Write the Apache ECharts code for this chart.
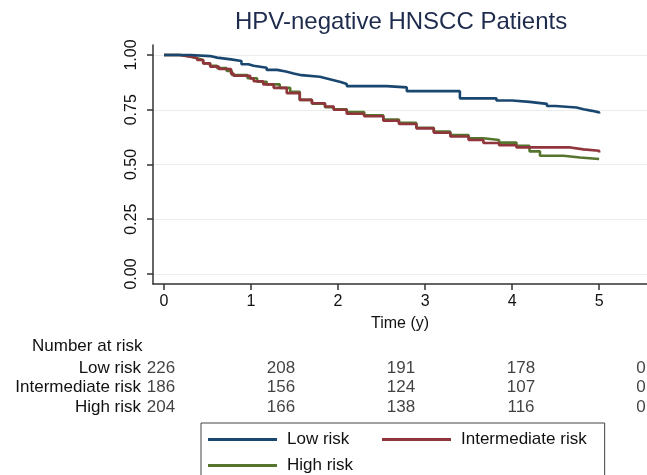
<!DOCTYPE html>
<html>
<head>
<meta charset="utf-8">
<script src="https://cdn.jsdelivr.net/npm/echarts@6/dist/echarts.min.js"></script>
<style>
  html, body { margin: 0; padding: 0; background: #fff; }
  #km-chart { width: 647px; height: 475px; }
</style>
</head>
<body>
<div id="km-chart"></div>
<script>
// Kaplan-Meier curves (time in years, survival probability)
const lowT  = [0, 0.30, 0.53, 0.61, 0.77, 0.89, 0.97, 1.03, 1.18, 1.30, 1.40, 1.49, 1.58, 1.79, 1.87, 1.95, 2.03, 2.10, 2.56, 2.79, 3.40, 3.82, 4.00, 4.20, 4.40, 4.50, 4.74, 4.82, 4.92, 5.00];
const lowS  = [1.000, 0.995, 0.988, 0.980, 0.973, 0.958, 0.951, 0.942, 0.932, 0.925, 0.916, 0.908, 0.901, 0.893, 0.885, 0.877, 0.868, 0.858, 0.852, 0.835, 0.802, 0.792, 0.786, 0.777, 0.767, 0.760, 0.752, 0.745, 0.738, 0.733];
const midT  = [0, 0.18, 0.30, 0.38, 0.45, 0.53, 0.63, 0.77, 0.80, 0.99, 1.03, 1.14, 1.26, 1.41, 1.56, 1.70, 1.85, 1.95, 2.10, 2.30, 2.52, 2.70, 2.90, 3.10, 3.29, 3.50, 3.67, 3.85, 4.05, 4.67, 4.82, 5.00];
const midS  = [1.000, 0.992, 0.987, 0.977, 0.962, 0.947, 0.936, 0.915, 0.905, 0.893, 0.880, 0.866, 0.850, 0.826, 0.795, 0.780, 0.765, 0.750, 0.732, 0.720, 0.700, 0.685, 0.665, 0.645, 0.628, 0.612, 0.598, 0.588, 0.578, 0.569, 0.563, 0.555];
const highT = [0, 0.18, 0.30, 0.34, 0.41, 0.45, 0.53, 0.61, 0.72, 0.78, 0.96, 1.07, 1.18, 1.33, 1.45, 1.56, 1.70, 1.85, 1.95, 2.10, 2.30, 2.52, 2.70, 2.90, 3.10, 3.29, 3.50, 3.67, 3.85, 4.05, 4.20, 4.32, 4.59, 4.78, 5.00];
const highS = [1.000, 0.995, 0.990, 0.982, 0.977, 0.962, 0.951, 0.940, 0.927, 0.909, 0.894, 0.878, 0.866, 0.850, 0.832, 0.795, 0.778, 0.762, 0.752, 0.740, 0.725, 0.705, 0.690, 0.668, 0.650, 0.635, 0.620, 0.612, 0.600, 0.585, 0.560, 0.540, 0.532, 0.525, 0.523];

const groups = ["Low risk", "Intermediate risk", "High risk"];
const xTicks = [0, 1, 2, 3, 4, 5];
const yTicks = [0, 0.25, 0.5, 0.75, 1];

// number at risk table
const riskTimes = [0, 1.25, 2.5, 3.75, 5];
const riskLow  = [226, 208, 191, 178, 0];
const riskMid  = [186, 156, 124, 107, 0];
const riskHigh = [204, 166, 138, 116, 0];

const colors = ["#1a476f", "#90353b", "#55752f"];
const font = "Liberation Sans, Arial, sans-serif";

const zip = (a, b) => a.map((v, i) => [v, b[i]]);
const curves = [zip(lowT, lowS), zip(midT, midS), zip(highT, highS)];
const risks = [riskLow, riskMid, riskHigh];

const chart = echarts.init(document.getElementById("km-chart"), null, {renderer: "canvas"});

const kmSeries = groups.map((g, i) => ({
  name: g,
  type: "line",
  step: "end",
  xAxisIndex: 0,
  yAxisIndex: 0,
  data: curves[i],
  symbol: "none",
  lineStyle: {color: colors[i], width: 2.6},
  itemStyle: {color: colors[i]},
  z: 3 - i
}));

const riskSeries = groups.map((g, i) => ({
  name: "n " + g,
  type: "scatter",
  xAxisIndex: 1,
  yAxisIndex: 1,
  symbolSize: 1,
  itemStyle: {color: "transparent"},
  data: riskTimes.map((t, j) => [t, g, risks[i][j]]),
  label: {
    show: true,
    position: "inside",
    formatter: (p) => String(p.value[2]),
    color: "#111",
    fontSize: 17,
    fontFamily: font
  }
}));

const option = {
  animation: false,
  backgroundColor: "#fff",
  title: [
    {
      text: "HPV-negative HNSCC Patients",
      left: 235,
      top: 10,
      padding: 0,
      textStyle: {color: "#1e2b4d", fontSize: 24, fontWeight: "normal", fontFamily: font}
    },
    {
      text: "Number at risk",
      left: 32,
      top: 338,
      padding: 0,
      textStyle: {color: "#111", fontSize: 17, fontWeight: "normal", fontFamily: font}
    }
  ],
  legend: {
    data: [
      {name: "Low risk", textStyle: {width: 90}},
      {name: "Intermediate risk"},
      {name: "High risk", textStyle: {width: 90}}
    ],
    left: 201,
    top: 423,
    width: 390,
    padding: [6, 18, 12, 7],
    itemGap: 5,
    itemWidth: 69,
    itemHeight: 3,
    icon: "rect",
    borderColor: "#444",
    borderWidth: 1,
    borderRadius: 0,
    textStyle: {color: "#111", fontSize: 17, fontFamily: font, padding: [0, 0, 0, 5], lineHeight: 21}
  },
  grid: [
    {left: 153, right: 0, top: 45, bottom: 191},
    {left: 161, right: 6, top: 358, height: 59}
  ],
  xAxis: [
    {
      type: "value",
      gridIndex: 0,
      min: -0.1264,
      max: 5.55,
      name: "Time (y)",
      nameLocation: "middle",
      nameGap: 32,
      nameTextStyle: {color: "#111", fontSize: 16, fontFamily: font},
      axisLine: {show: true, onZero: false, lineStyle: {color: "#333", width: 1.5}},
      axisTick: {show: true, length: 6, customValues: xTicks, lineStyle: {color: "#333", width: 1.5}},
      axisLabel: {customValues: xTicks, margin: 10, color: "#111", fontSize: 16, fontFamily: font},
      splitLine: {show: false}
    },
    {
      type: "value",
      gridIndex: 1,
      min: 0,
      max: 5,
      axisLine: {show: false},
      axisTick: {show: false},
      axisLabel: {show: false},
      splitLine: {show: false}
    }
  ],
  yAxis: [
    {
      type: "value",
      gridIndex: 0,
      min: -0.0457,
      max: 1.0457,
      axisLine: {show: true, onZero: false, lineStyle: {color: "#333", width: 1.5}},
      axisTick: {show: true, length: 6, customValues: yTicks, lineStyle: {color: "#333", width: 1.5}},
      axisLabel: {
        customValues: yTicks,
        rotate: 90,
        margin: 13,
        color: "#111",
        fontSize: 16,
        fontFamily: font,
        formatter: (v) => v.toFixed(2)
      },
      splitLine: {show: true, lineStyle: {color: "#ececec", width: 1}}
    },
    {
      type: "category",
      gridIndex: 1,
      data: groups,
      inverse: true,
      axisLine: {show: false},
      axisTick: {show: false},
      axisLabel: {interval: 0, hideOverlap: false, margin: 20, color: "#111", fontSize: 17, fontFamily: font},
      splitLine: {show: false}
    }
  ],
  series: [...kmSeries, ...riskSeries]
};

chart.setOption(option);
</script>
</body>
</html>
